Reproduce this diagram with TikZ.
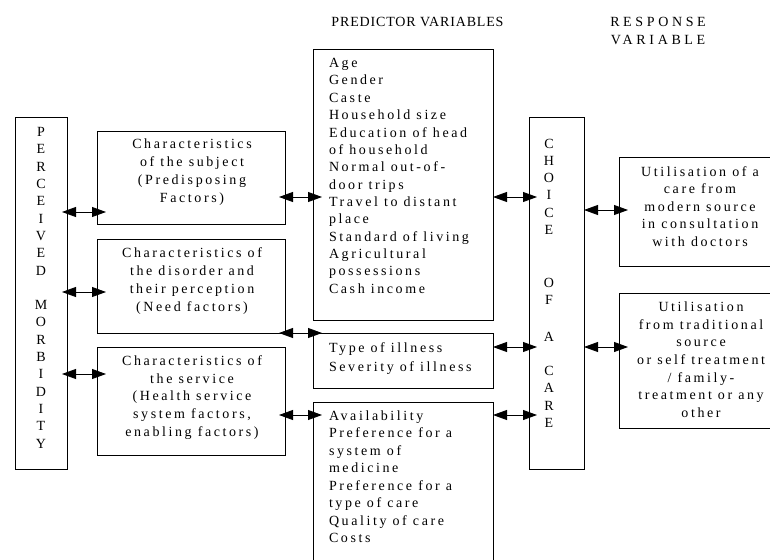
\documentclass[tikz,border=0pt]{standalone}
\usepackage{fontspec}
\setmainfont{Liberation Serif}
\newfontfamily\bodyfont[LetterSpace=18.5]{Liberation Serif}
\newfontfamily\predfont[LetterSpace=6]{Liberation Serif}
\newfontfamily\respfont[LetterSpace=26]{Liberation Serif}
\usetikzlibrary{arrows.meta}
\newcommand{\fls}{\rule{0pt}{11pt}}
\begin{document}
\begin{tikzpicture}[x=1pt,y=-1pt,
  box/.style={draw, line width=0.9pt, inner sep=0pt, outer sep=0pt, anchor=north west},
  txt/.style={inner sep=0pt, outer sep=0pt},
  arr/.style={{Triangle[length=14pt,width=10pt]}-{Triangle[length=14pt,width=10pt]}, line width=0.8pt}]
\useasboundingbox (0,0) rectangle (770,559);
\clip (0,0) rectangle (770,559);
% boxes
\node[box, minimum width=52pt, minimum height=352pt] (perc) at (15,117) {};
\node[box, minimum width=188pt, minimum height=93pt] (subj) at (97,131) {};
\node[box, minimum width=188pt, minimum height=94pt] (dis) at (97,239) {};
\node[box, minimum width=188pt, minimum height=108pt] (serv) at (97,347) {};
\node[box, minimum width=180pt, minimum height=271pt] (pred) at (313,49) {};
\node[box, minimum width=180pt, minimum height=55pt] (type) at (313,333) {};
\node[box, minimum width=180pt, minimum height=170pt] (avail) at (313,402) {};
\node[box, minimum width=55pt, minimum height=352pt] (choice) at (529,117) {};
\node[box, minimum width=170pt, minimum height=109pt] (rone) at (619,157) {};
\node[box, minimum width=170pt, minimum height=135pt] (rtwo) at (619,293) {};
% headers
\node[txt, anchor=north, font=\predfont\fontsize{14}{17.6}\selectfont] (hpred) at (417.5,15.6) {\fls PREDICTOR VARIABLES};
\node[txt, anchor=north, align=center, font=\respfont\fontsize{14}{17.6}\selectfont] (hresp) at (658,16) {\fls RESPONSE\\VARIABLE};
% vertical texts
\node[txt, anchor=north, align=center, font=\rmfamily\fontsize{14}{17.3}\selectfont] (perct) at (41,125.6)
  {\fls P\\E\\R\\C\\E\\I\\V\\E\\D\\ \\M\\O\\R\\B\\I\\D\\I\\T\\Y};
\node[txt, anchor=north, align=center, font=\rmfamily\fontsize{14}{17.3}\selectfont] (cha) at (549,137) {\fls C\\H\\O\\I\\C\\E};
\node[txt, anchor=north, align=center, font=\rmfamily\fontsize{14}{17.3}\selectfont] (chb) at (549,276.6) {\fls O\\F};
\node[txt, anchor=north, align=center, font=\rmfamily\fontsize{14}{17.3}\selectfont] (chc) at (549,330.6) {\fls A};
\node[txt, anchor=north, align=center, font=\rmfamily\fontsize{14}{17.3}\selectfont] (chd) at (549,364.6) {\fls C\\A\\R\\E};
% left column texts
\node[txt, anchor=north, align=center, font=\bodyfont\fontsize{14}{18}\selectfont] (subjt) at (192,137.3)
  {\fls Characteristics\\of the subject\\(Predisposing\\Factors)};
\node[txt, anchor=north, align=center, font=\bodyfont\fontsize{14}{18}\selectfont] (dist) at (192,246)
  {\fls Characteristics of\\the disorder and\\their perception\\(Need factors)};
\node[txt, anchor=north, align=center, font=\bodyfont\fontsize{14}{17.8}\selectfont] (servt) at (192,354.3)
  {\fls Characteristics of\\the service\\(Health service\\system factors,\\enabling factors)};
% predictor texts
\node[txt, anchor=north west, align=left, font=\bodyfont\fontsize{14}{17.35}\selectfont] (predt) at (329,56.6)
  {\fls Age\\Gender\\Caste\\Household size\\Education of head\\of household\\Normal out-of-\\door trips\\Travel to distant\\place\\Standard of living\\Agricultural\\possessions\\Cash income};
\node[txt, anchor=north west, align=left, font=\bodyfont\fontsize{14}{18.4}\selectfont] (typet) at (329,341.6)
  {\fls Type of illness\\Severity of illness};
\node[txt, anchor=north west, align=left, font=\bodyfont\fontsize{14}{17.5}\selectfont] (availt) at (329,409.3)
  {\fls Availability\\Preference for a\\system of\\medicine\\Preference for a\\type of care\\Quality of care\\Costs};
% response texts
\node[txt, anchor=north, align=center, font=\bodyfont\fontsize{14}{17.6}\selectfont] (ronet) at (700,165)
  {\fls Utilisation of a\\care from\\modern source\\in consultation\\with doctors};
\node[txt, anchor=north, align=center, font=\bodyfont\fontsize{14}{17.6}\selectfont] (rtwot) at (701,300.6)
  {\fls Utilisation\\from traditional\\source\\or self treatment\\/ family-\\treatment or any\\other};
% arrows
\draw[arr, shorten <=-5pt, shorten >=-9pt] (perc.east |- 0,212) -- (subj.west |- 0,212);
\draw[arr, shorten <=-5pt, shorten >=-9pt] (perc.east |- 0,292) -- (dis.west |- 0,292);
\draw[arr, shorten <=-5pt, shorten >=-9pt] (perc.east |- 0,374) -- (serv.west |- 0,374);
\draw[arr, shorten <=-6pt, shorten >=-9pt] (subj.east |- 0,197) -- (pred.west |- 0,197);
\draw[arr, shorten <=-6pt, shorten >=-9pt] (dis.east |- 0,333) -- (type.west |- 0,333);
\draw[arr, shorten <=-6pt, shorten >=-9pt] (serv.east |- 0,415) -- (avail.west |- 0,415);
\draw[arr, shorten >=-8pt] (pred.east |- 0,197) -- (choice.west |- 0,197);
\draw[arr, shorten >=-8pt] (type.east |- 0,347) -- (choice.west |- 0,347);
\draw[arr, shorten >=-8pt] (avail.east |- 0,415) -- (choice.west |- 0,415);
\draw[arr, shorten >=-9pt] (choice.east |- 0,210) -- (rone.west |- 0,210);
\draw[arr, shorten >=-9pt] (choice.east |- 0,347) -- (rtwo.west |- 0,347);
\end{tikzpicture}
\end{document}
